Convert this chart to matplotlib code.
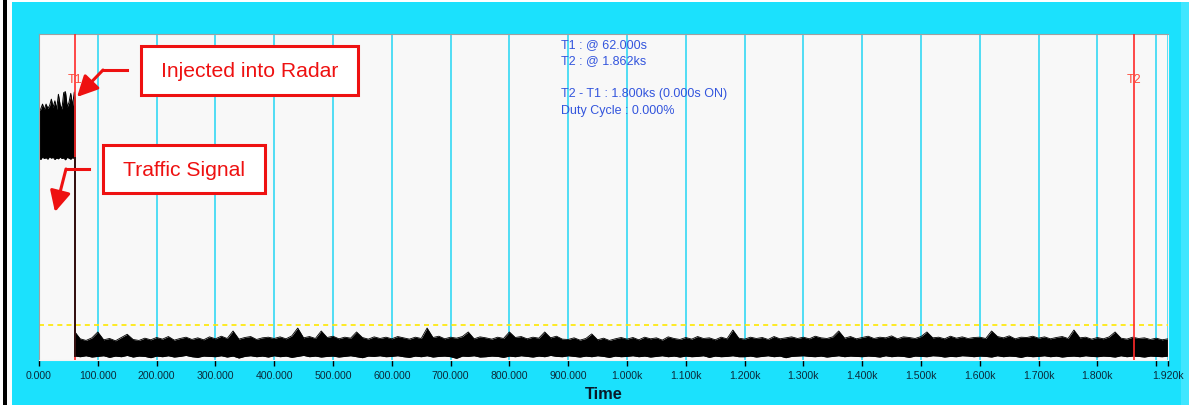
import matplotlib.pyplot as plt
from matplotlib.patches import Rectangle, FancyArrowPatch
from matplotlib.lines import Line2D

plt.rcParams['font.family'] = ['Liberation Sans', 'DejaVu Sans']

# marker times (s) and threshold level
t1, t2 = 62.0, 1862.0
threshold = 10.7

# radar signal before T1, every 3 s
block_t = [0, 3, 6, 9, 12, 15, 18, 21, 24, 27, 30, 33, 36, 39, 42, 45, 48, 51, 54, 57, 60, 62]
block_hi = [76.5, 77.0, 78.5, 76.8, 78.5, 77.2, 78.0, 80.0, 77.5, 79.5, 76.9, 81.5,
            78.2, 77.0, 82.0, 82.3, 77.6, 79.0, 81.8, 78.0, 82.2, 79.5]
block_lo = [62.0, 61.5, 62.3, 61.8, 62.1, 61.6, 62.4, 61.9, 62.2, 61.5, 62.0, 61.7,
            62.3, 61.8, 62.0, 61.4, 62.2, 61.9, 61.6, 62.1, 61.8, 62.0]

# traffic noise after T1, every 10 s
noise_t = [62] + list(range(70, 1921, 10))
noise_hi = [8.4,
            6.5, 6.0, 6.8,
            8.6, 6.2, 6.6, 5.9, 6.9, 7.9, 6.3, 6.0, 6.7, 6.2,
            6.9, 6.4, 7.2, 6.1, 6.6, 7.0, 6.3, 6.8, 6.2, 7.1,
            6.5, 7.3, 6.6, 8.9, 6.4, 6.9, 7.2, 6.3, 6.8, 7.0,
            6.6, 7.1, 6.5, 7.4, 9.8, 6.8, 7.2, 6.6, 8.9, 6.9,
            7.3, 6.5, 7.0, 6.7, 8.6, 6.9, 6.4, 7.1, 6.6, 7.0,
            6.5, 7.2, 6.8, 6.4, 7.0, 6.6, 9.8, 6.9, 7.3, 6.5,
            7.0, 6.7, 7.2, 8.6, 6.5, 7.1, 6.8, 6.4, 7.0, 6.6,
            8.6, 6.9, 7.2, 6.5, 7.0, 6.7, 8.6, 6.8, 7.3, 6.4,
            6.3, 6.8, 6.1, 6.6, 8.0, 6.2, 6.7, 6.0, 6.5, 6.9,
            6.4, 6.9, 6.2, 7.0, 6.5, 6.8, 6.1, 7.1, 6.6, 6.3,
            6.9, 6.4, 7.2, 6.6, 6.8, 6.2, 7.0, 6.5, 9.2, 6.7,
            6.4, 7.0, 6.6, 6.9, 6.3, 7.2, 6.5, 6.8, 7.1, 6.6,
            7.0, 6.5, 7.3, 6.8, 6.6, 7.1, 8.9, 6.7, 7.2, 6.5,
            6.9, 7.3, 6.6, 7.0, 6.8, 7.4, 6.5, 7.1, 6.9, 6.6,
            7.2, 8.6, 6.8, 7.0, 6.5, 7.3, 6.7, 7.1, 6.6, 6.9,
            7.0, 6.6, 8.9, 7.2, 6.8, 7.4, 6.5, 7.0, 6.9, 7.3,
            6.7, 7.1, 6.5, 6.9, 7.2, 6.6, 9.2, 6.8, 7.0, 6.4,
            6.9, 6.5, 7.1, 8.6, 6.7, 6.4, 7.0, 6.6, 6.8, 6.3,
            6.7, 6.2, 6.5]
noise_lo = [1.2,
            1.0, 1.3, 0.9,
            1.1, 1.3, 0.8, 1.2, 1.0, 1.4, 0.9, 1.2, 1.1, 0.7,
            1.2, 1.0, 1.3, 0.9, 1.1, 1.4, 1.0, 0.8, 1.2, 1.1,
            1.0, 1.3, 0.9, 1.2, 0.6, 1.1, 1.3, 1.0, 1.2, 0.9,
            1.3, 1.0, 1.2, 0.8, 1.1, 1.4, 1.0, 1.2, 0.9, 1.1,
            1.2, 0.9, 1.1, 1.3, 1.0, 0.7, 1.2, 1.1, 1.3, 1.0,
            1.1, 1.3, 1.0, 0.8, 1.2, 1.0, 1.3, 0.9, 1.1, 1.2,
            1.0, 0.5, 1.2, 1.1, 1.3, 0.9, 1.0, 1.2, 1.1, 0.8,
            1.2, 1.0, 1.3, 1.1, 0.9, 1.2, 1.0, 1.4, 1.1, 1.0,
            1.3, 1.1, 0.9, 1.2, 1.0, 1.3, 1.1, 0.8, 1.2, 1.0,
            1.1, 1.3, 1.0, 1.2, 0.9, 1.1, 1.3, 1.0, 1.2, 0.9,
            1.2, 1.0, 1.1, 1.3, 0.8, 1.2, 1.0, 1.1, 1.3, 1.0,
            1.0, 1.2, 0.9, 1.1, 1.3, 1.0, 1.2, 0.7, 1.1, 1.2,
            1.3, 1.1, 1.0, 1.2, 0.9, 1.1, 1.3, 1.0, 1.2, 1.1,
            1.0, 1.2, 1.1, 0.9, 1.3, 1.0, 1.2, 1.1, 0.8, 1.2,
            1.1, 1.0, 1.3, 1.2, 0.9, 1.1, 1.0, 1.3, 1.2, 1.0,
            1.2, 1.1, 0.9, 1.3, 1.0, 1.2, 1.1, 0.8, 1.2, 1.0,
            1.1, 1.3, 1.0, 1.2, 0.9, 1.1, 1.2, 1.0, 1.3, 1.1,
            1.0, 1.2, 1.1, 0.9, 1.3, 1.0, 1.2, 1.1, 0.9, 1.2,
            1.1, 1.0, 1.2]

tick_pos = list(range(0, 2000, 100)) + [1920]
tick_lbl = ['0.000', '100.000', '200.000', '300.000', '400.000', '500.000', '600.000',
            '700.000', '800.000', '900.000', '1.000k', '1.100k', '1.200k', '1.300k',
            '1.400k', '1.500k', '1.600k', '1.700k', '1.800k', '', '1.920k']

info = ['T1 : @ 62.000s', 'T2 : @ 1.862ks', '', 'T2 - T1 : 1.800ks (0.000s ON)',
        'Duty Cycle : 0.000%']

W, H = 1189, 406
cyan = '#1be1fd'
red = '#ee1111'


def px(x, y):
    # pixel (from top-left) -> figure fraction
    return (x / W, 1 - y / H)


fig = plt.figure(figsize=(W / 100, H / 100), dpi=100, facecolor=cyan)

# window frame bits
for (x0, y0, x1, y1, c) in [(0, 0, 12, H, 'white'), (3, 0, 7, H, 'black'),
                            (12, 0, W, 3, 'white'), (1181, 3, W, H, '#3fe6ff')]:
    fig.add_artist(Rectangle(px(x0, y1), (x1 - x0) / W, (y1 - y0) / H,
                             transform=fig.transFigure, color=c, lw=0, zorder=0))

ax = fig.add_axes([39 / W, 1 - 361 / H, (1168 - 39) / W, (361 - 35) / H])
ax.set_facecolor('#f8f8f8')
ax.set_xlim(0, 1920)
ax.set_ylim(0, 100)
ax.set_yticks([])
ax.set_xticks(tick_pos)
ax.set_xticklabels(tick_lbl)
ax.tick_params(axis='x', direction='out', length=4.5, width=1, color='black',
               labelsize=7.6, labelcolor='#0b2a3a', pad=3)
ax.set_axisbelow(True)
ax.grid(axis='x', color='#22d6f4', lw=1.1)
for s in ['top', 'left']:
    ax.spines[s].set_color('#a0a0a0')
for s in ['bottom', 'right']:
    ax.spines[s].set_color('#f4f4f4')
ax.set_xlabel('Time', fontsize=11.8, fontweight='bold', color='#0a1a2a', labelpad=4)

# yellow threshold
ax.axhline(threshold, color='#ffe800', lw=1.2, ls=(0, (3, 2.5)), zorder=1)

# trace
ax.fill_between(block_t, block_lo, block_hi, color='black', lw=0, zorder=2)
ax.plot(block_t, block_hi, color='black', lw=0.7, zorder=2)
ax.plot(block_t, block_lo, color='black', lw=0.7, zorder=2)
ax.fill_between(noise_t, noise_lo, noise_hi, color='black', lw=0, zorder=2)
ax.plot(noise_t, noise_hi, color='black', lw=0.6, zorder=2)
ax.plot(noise_t, noise_lo, color='black', lw=0.6, zorder=2)

# markers
for t, lbl in [(t1, 'T1'), (t2, 'T2')]:
    ax.axvline(t, color='#ff2a2a', lw=1.2, zorder=3)
    ax.text(t, 86.2, lbl, color='#ff4a3a', fontsize=9, ha='center', va='center', zorder=3)
ax.plot([t1, t1], [block_lo[-1], noise_lo[0]], color='#301010', lw=1.4, zorder=4)

for i, line in enumerate(info):
    fig.text(*px(561, 45 + 16.5 * i), line, color='#3355dd', fontsize=9,
             ha='left', va='center')

# callouts
boxes = [((141, 47, 358, 96), 'Injected into Radar'),
         ((103, 146, 265, 194), 'Traffic Signal')]
for (x0, y0, x1, y1), txt in boxes:
    fig.add_artist(Rectangle(px(x0, y1), (x1 - x0) / W, (y1 - y0) / H,
                             transform=fig.transFigure, facecolor='white',
                             edgecolor=red, lw=2.2, zorder=5))
    fig.text(*px((x0 + x1) / 2, (y0 + y1) / 2), txt, color=red, fontsize=15.2,
             ha='center', va='center', zorder=6)

arrows = [((127, 71), (103, 71), (77, 98)),
          ((89, 170), (66, 170), (55, 213))]
for a, b, c in arrows:
    fig.add_artist(Line2D([px(*a)[0], px(*b)[0]], [px(*a)[1], px(*b)[1]],
                          transform=fig.transFigure, color=red, lw=2.2, zorder=6))
    fig.add_artist(FancyArrowPatch(px(*b), px(*c), transform=fig.transFigure,
                                   arrowstyle='-|>,head_length=0.9,head_width=0.45',
                                   mutation_scale=14, color=red, lw=2.2,
                                   shrinkA=0, shrinkB=0, zorder=6))

fig.savefig('out.png', dpi=100, facecolor=cyan)
